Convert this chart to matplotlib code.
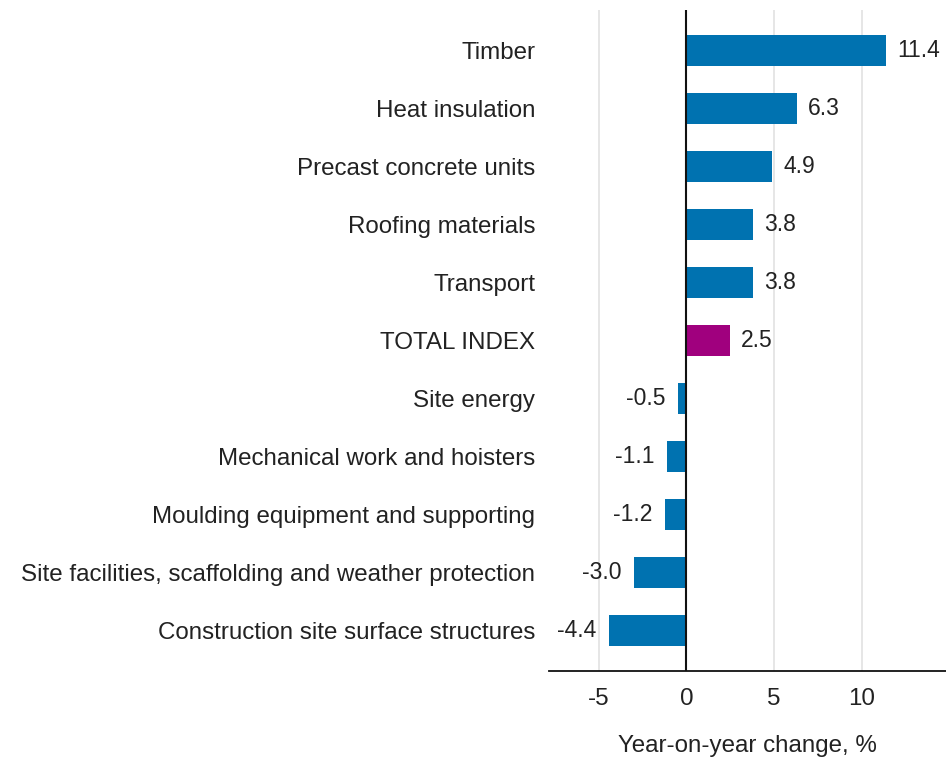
import matplotlib.pyplot as plt

categories = ['Timber', 'Heat insulation', 'Precast concrete units', 'Roofing materials',
              'Transport', 'TOTAL INDEX', 'Site energy', 'Mechanical work and hoisters',
              'Moulding equipment and supporting',
              'Site facilities, scaffolding and weather protection',
              'Construction site surface structures']
values = [11.4, 6.3, 4.9, 3.8, 3.8, 2.5, -0.5, -1.1, -1.2, -3.0, -4.4]
xticks = [-5, 0, 5, 10]

plt.rcParams['font.family'] = ['Liberation Sans', 'DejaVu Sans']

fig = plt.figure(figsize=(9.46, 7.6), dpi=100)
ax = fig.add_axes([0.5803, 0.1171, 0.4197, 0.8697])

colors = ['#a0007e' if c == 'TOTAL INDEX' else '#0072b0' for c in categories]
ypos = list(range(len(categories)))
ax.barh(ypos, values, height=0.53, color=colors, zorder=3)

# value labels next to the bar ends
for y, v in zip(ypos, values):
    if v >= 0:
        ax.annotate(f'{v:.1f}', (v, y), xytext=(8, 0), textcoords='offset points',
                    ha='left', va='center', fontsize=16.5, color='#222222')
    else:
        ax.annotate(f'{v:.1f}', (v, y), xytext=(-9, 0), textcoords='offset points',
                    ha='right', va='center', fontsize=16.5, color='#222222')

ax.set_xlim(-7.83, 14.8)
ax.set_ylim(len(categories) - 0.3, -0.7)
ax.set_yticks(ypos)
ax.set_yticklabels(categories, fontsize=17.4, color='#222222')
ax.set_xticks(xticks)
ax.set_xticklabels([str(t) for t in xticks], fontsize=17.4, color='#222222')

ax.axvline(0, color='#111111', linewidth=1.5, zorder=4)
for t in xticks:
    if t != 0:
        ax.axvline(t, color='#e4e4e4', linewidth=1.3, zorder=1)

for s in ['top', 'right', 'left']:
    ax.spines[s].set_visible(False)
ax.spines['bottom'].set_color('#111111')
ax.spines['bottom'].set_linewidth(1.3)
ax.tick_params(axis='both', length=0)
ax.tick_params(axis='x', pad=12)
ax.tick_params(axis='y', pad=10)

ax.set_xlabel('Year-on-year change, %', fontsize=17.4, color='#222222', labelpad=18)

fig.savefig('out.png', dpi=100)
